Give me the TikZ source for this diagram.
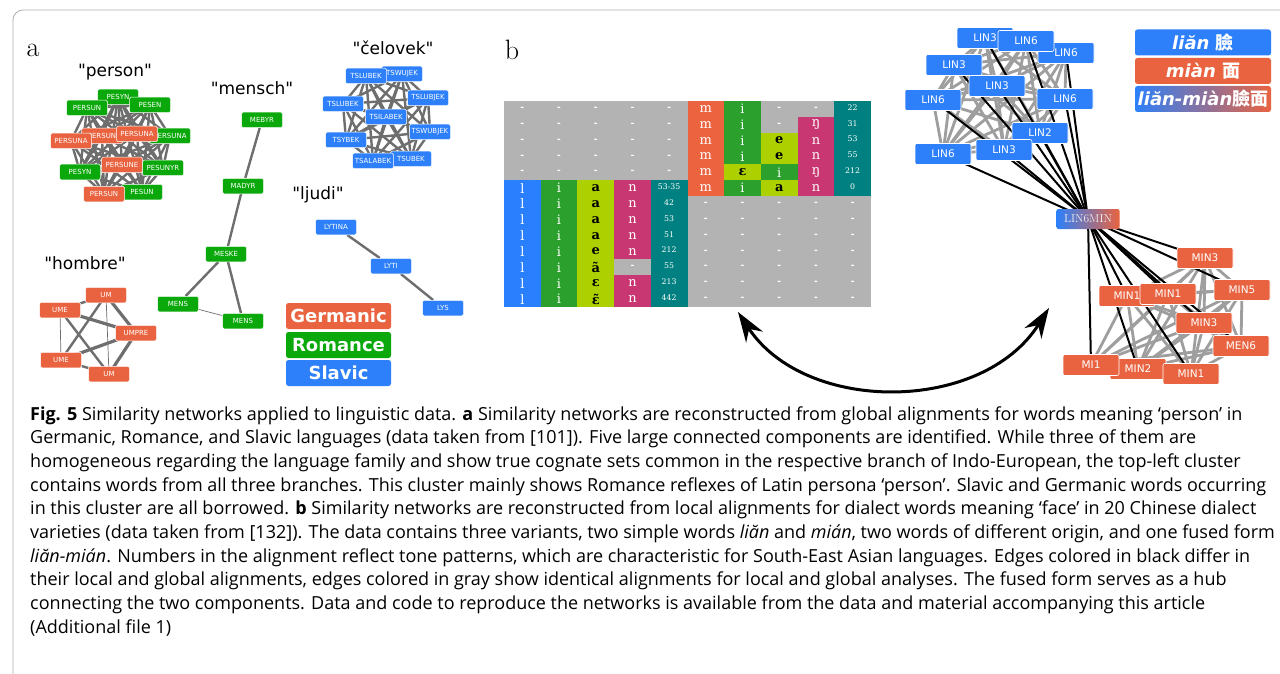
\documentclass[tikz,border=0pt]{standalone}
\usepackage{fontspec}
\usetikzlibrary{arrows.meta}
\newfontfamily\dvs{DejaVu Sans}
\newfontfamily\dvserif{DejaVu Serif}
\newfontfamily\capfont{Open Sans}
\newfontfamily\cjkfont{Noto Sans CJK TC}
\pgfdeclarelayer{bg}
\pgfsetlayers{bg,main}
\definecolor{cGer}{RGB}{233,99,64}
\definecolor{cRom}{RGB}{10,168,10}
\definecolor{cSla}{RGB}{45,128,250}
\definecolor{cEdge}{RGB}{110,110,110}
\definecolor{cEdgeL}{RGB}{158,158,158}
\definecolor{tGray}{RGB}{179,179,179}
\definecolor{tBlue}{RGB}{42,127,255}
\definecolor{tGreen}{RGB}{44,160,44}
\definecolor{tLime}{RGB}{173,208,0}
\definecolor{tMag}{RGB}{200,55,113}
\definecolor{tTeal}{RGB}{0,128,128}
\definecolor{tOra}{RGB}{236,99,64}
\definecolor{frameC}{RGB}{175,175,175}
\tikzset{
  sn/.style={rounded corners=1.5pt, draw=white, line width=0.5pt, text=white,
    font=\dvs\fontsize{7}{8}\selectfont, minimum width=41pt, minimum height=15.5pt, inner sep=0pt},
  gN/.style={sn, fill=cGer}, rN/.style={sn, fill=cRom}, sN/.style={sn, fill=cSla},
  bn/.style={rounded corners=2pt, draw=white, line width=0.6pt, text=white,
    font=\dvs\fontsize{10.5}{12}\selectfont, minimum width=56pt, minimum height=21pt, inner sep=0pt},
  bS/.style={bn, fill=cSla}, bG/.style={bn, fill=cGer},
  ttl/.style={font=\dvs\fontsize{17}{20}\selectfont, inner sep=0pt},
  ed/.style={draw=cEdge, line width=2.4pt},
  edt/.style={draw=cEdge, line width=0.7pt},
  edk/.style={draw=cEdge, line width=3.2pt},
  edl/.style={draw=cEdgeL, line width=2.8pt},
  edb/.style={draw=black, line width=2pt},
  lg/.style={rounded corners=2.5pt, text=white, minimum width=105pt, minimum height=26pt,
    inner sep=0pt, font=\dvs\bfseries\fontsize{18}{20}\selectfont},
  leg/.style={rounded corners=2.5pt, text=white, minimum width=136pt, minimum height=26pt,
    inner sep=0pt, font=\dvs\bfseries\itshape\fontsize{18}{20}\selectfont},
  tl/.style={text=white, font=\dvserif\fontsize{13}{14}\selectfont, inner sep=0pt},
  tk/.style={text=black, font=\dvserif\bfseries\fontsize{13}{14}\selectfont, inner sep=0pt},
  tn/.style={text=white, font=\dvserif\fontsize{7.8}{8}\selectfont, inner sep=0pt, yshift=1.5pt},
  td/.style={text=white, font=\dvs\bfseries\fontsize{9}{10}\selectfont, inner sep=0pt},
  capt/.style={anchor=base west, inner sep=0pt, font=\capfont\fontsize{18}{21}\selectfont},
}
\newcommand{\tcell}[5]{%
  \fill[#3] ({504+#1*36.7},{101+#2*15.846}) rectangle ({504+(#1+1)*36.7},{101+(#2+1)*15.846});
  \node[#5] at ({504+(#1+0.5)*36.7},{101+(#2+0.5)*15.846}) {#4};}
\begin{document}
\begin{tikzpicture}[x=1pt,y=-1pt]
\useasboundingbox (0,0) rectangle (1280,674);
\begin{pgfonlayer}{bg}
\fill[white] (0,0) rectangle (1280,674);
\end{pgfonlayer}
\draw[frameC, line width=0.8pt, rounded corners=10pt] (13,675) -- (13,10) -- (1282,10);

% panel labels
\node[font=\fontsize{28}{30}\selectfont, inner sep=0pt] (la) at (33,50) {a};
\node[font=\fontsize{28}{30}\selectfont, inner sep=0pt] (lb) at (512,50) {b};

% titles
\node[ttl] (tp) at (115,72) {"person"};
\node[ttl] (tm) at (252,88) {"mensch"};
\node[ttl] (tc) at (393,48) {"čelovek"};
\node[ttl] (th) at (85,263) {"hombre"};
\node[ttl] (tj) at (318,195) {"ljudi"};

% person cluster
\node[rN] (p1) at (118,97) {PESYN};
\node[rN] (p2) at (87,108) {PERSUN};
\node[rN] (p3) at (150,105) {PESEN};
\node[rN] (p4) at (170,136) {PERSUNA};
\node[gN] (p5) at (102,136) {PERSUN};
\node[gN] (p6) at (137,134) {PERSUNA};
\node[gN] (p7) at (71,141) {PERSUNA};
\node[gN] (p8) at (122,165) {PERSUNE};
\node[rN] (p9) at (163,168) {PESUNYR};
\node[rN] (p10) at (80,172) {PESYN};
\node[rN] (p11) at (142,192) {PESUN};
\node[gN] (p12) at (104,194) {PERSUN};

% mensch
\node[rN] (m1) at (262,120) {MEBYR};
\node[rN] (m2) at (243,186) {MADYR};
\node[rN] (m3) at (226,254) {MESKE};
\node[rN] (m4) at (178,304) {MENS};
\node[rN] (m5) at (243,321) {MENS};

% celovek
\node[sN] (c1) at (402,74) {TSWUJEK};
\node[sN] (c2) at (366,76) {TSLUBEK};
\node[sN] (c3) at (428,98) {TSLUBJEK};
\node[sN] (c4) at (343,104) {TSLUBEK};
\node[sN] (c5) at (386,117) {TSILABEK};
\node[sN] (c6) at (430,132) {TSWUBJEK};
\node[sN] (c7) at (346,140) {TSYBEK};
\node[sN] (c8) at (411,159) {TSUBEK};
\node[sN] (c9) at (373,161) {TSALABEK};

% hombre
\node[gN] (h1) at (106,295) {UM};
\node[gN] (h2) at (60,310) {UME};
\node[gN] (h3) at (136,333) {UMPRE};
\node[gN] (h4) at (61,360) {UME};
\node[gN] (h5) at (109,374) {UM};

% ljudi
\node[sN] (j1) at (336,227) {LYTINA};
\node[sN] (j2) at (391,266) {LYTI};
\node[sN] (j3) at (443,308) {LYS};

% legend a
\node[lg, fill=cGer] (lgG) at (338.5,316) {Germanic};
\node[lg, fill=cRom] (lgR) at (338.5,345) {Romance};
\node[lg, fill=cSla] (lgS) at (338.5,373) {Slavic};

\begin{pgfonlayer}{bg}
\foreach \i in {1,...,12}{\foreach \j in {1,...,12}{\ifnum\i<\j \draw[ed] (p\i.center) -- (p\j.center);\fi}}
\foreach \i in {1,...,9}{\foreach \j in {1,...,9}{\ifnum\i<\j \draw[ed] (c\i.center) -- (c\j.center);\fi}}
\draw[ed] (m1) -- (m2); \draw[ed] (m2) -- (m3); \draw[ed] (m3) -- (m4); \draw[ed] (m3) -- (m5);
\draw[edt] (m4) -- (m5);
\draw[ed] (h2.center) -- (h1.center); \draw[edk] (h2.center) -- (h3.center);
\draw[edt] (h2.center) -- (h4.center); \draw[ed] (h2.center) -- (h5.center);
\draw[ed] (h1.center) -- (h4.center); \draw[edk] (h1.center) -- (h3.center);
\draw[edt] (h1.center) -- (h5.center); \draw[edk] (h3.center) -- (h4.center);
\draw[edk] (h3.center) -- (h5.center); \draw[ed] (h4.center) -- (h5.center);
\draw[ed] (j1) -- (j2); \draw[ed] (j2) -- (j3);
\end{pgfonlayer}

% alignment table
\fill[tGray] (504,101) rectangle (871,307);
\foreach \c in {0,...,4}{\foreach \r in {0,...,4}{\node[td] at ({504+(\c+0.5)*36.7},{101+(\r+0.5)*15.846}) {-};}}
\foreach \r/\ch/\n/\nc/\nt/\ns in {5/a/53-35/tMag/n/tl,6/a/42/tMag/n/tl,7/a/53/tMag/n/tl,8/a/51/tMag/n/tl,9/e/212/tMag/n/tl,10/ã/55/tGray/-/td,11/ɛ/213/tMag/n/tl,12/ɛ̃/442/tMag/n/tl}{
  \tcell{0}{\r}{tBlue}{l}{tl}
  \tcell{1}{\r}{tGreen}{i}{tl}
  \tcell{2}{\r}{tLime}{\ch}{tk}
  \tcell{3}{\r}{\nc}{\nt}{\ns}
  \tcell{4}{\r}{tTeal}{\n}{tn}
}
\foreach \r/\n in {0/22,1/31,2/53,3/55,4/212,5/0}{
  \tcell{5}{\r}{tOra}{m}{tl}
  \tcell{9}{\r}{tTeal}{\n}{tn}
}
\foreach \r in {0,1,2,3,5}{\tcell{6}{\r}{tGreen}{i}{tl}}
\tcell{6}{4}{tLime}{ɛ}{tk}
\tcell{7}{0}{tGray}{-}{td}
\tcell{7}{1}{tGray}{-}{td}
\tcell{7}{2}{tLime}{e}{tk}
\tcell{7}{3}{tLime}{e}{tk}
\tcell{7}{4}{tGreen}{i}{tl}
\tcell{7}{5}{tLime}{a}{tk}
\tcell{8}{0}{tGray}{-}{td}
\tcell{8}{1}{tMag}{ŋ}{tl}
\tcell{8}{2}{tMag}{n}{tl}
\tcell{8}{3}{tMag}{n}{tl}
\tcell{8}{4}{tMag}{ŋ}{tl}
\tcell{8}{5}{tMag}{n}{tl}
\foreach \c in {5,...,9}{\foreach \r in {6,...,12}{\node[td] at ({504+(\c+0.5)*36.7},{101+(\r+0.5)*15.846}) {-};}}

% double arrow
\coordinate (ar1) at (738,312);
\coordinate (ar2) at (1049,308);
\draw[line width=3pt, {Stealth[length=30pt,width=20pt]}-{Stealth[length=30pt,width=20pt]}]
  (ar1) .. controls (805,414) and (982,414) .. (ar2);

% right network
\node[bS] (L1) at (985,38) {LIN3};
\node[bS] (L3) at (1066,53) {LIN6};
\node[bS] (L2) at (1026,41) {LIN6};
\node[bS] (L4) at (954,65) {LIN3};
\node[bS] (L5) at (997,86) {LIN3};
\node[bS] (L6) at (933,100) {LIN6};
\node[bS] (L7) at (1065,99) {LIN6};
\node[bS] (L8) at (1040,133) {LIN2};
\node[bS] (L9) at (943,154) {LIN6};
\node[bS] (L10) at (1004,150) {LIN3};
\node[rounded corners=2pt, left color=cSla, middle color=cGer!45!white!90!gray, right color=cGer,
  minimum width=63pt, minimum height=20pt, inner sep=0pt, text=white!88!gray,
  font=\fontsize{11.5}{12}\selectfont] (H) at (1088,219) {LIN6MIN};
\node[bG] (M1) at (1205,258) {MIN3};
\node[bG] (M2) at (1127,296) {MIN1};
\node[bG] (M3) at (1168,294) {MIN1};
\node[bG] (M4) at (1242,290) {MIN5};
\node[bG] (M5) at (1204,323) {MIN3};
\node[bG] (M6) at (1241,346) {MEN6};
\node[bG] (M7) at (1138,369) {MIN2};
\node[bG] (M8) at (1091,365) {MI1};
\node[bG] (M9) at (1191,374) {MIN1};

\begin{pgfonlayer}{bg}
\foreach \i in {1,...,10}{\foreach \j in {1,...,10}{\ifnum\i<\j \draw[edl] (L\i.center) -- (L\j.center);\fi}}
\foreach \i in {1,...,9}{\foreach \j in {1,...,9}{\ifnum\i<\j \draw[edl] (M\i.center) -- (M\j.center);\fi}}
\foreach \i in {1,...,10}{\draw[edb] (H.center) -- (L\i.center);}
\foreach \i in {1,...,9}{\draw[edb] (H.center) -- (M\i.center);}
\end{pgfonlayer}

% legend b
\node[leg, fill=cSla] (k1) at (1203,42.5) {liăn {\cjkfont\bfseries\upshape 臉}};
\node[leg, fill=cGer] (k2) at (1203,71) {miàn {\cjkfont\bfseries\upshape 面}};
\node[leg, left color=cSla, middle color=cGer!50!white, right color=cGer] (k3) at (1203,99) {liăn-miàn{\cjkfont\bfseries\upshape 臉面}};

% caption
\node[capt] (cap1) at (30,420) {\textbf{Fig. 5} Similarity networks applied to linguistic data. \textbf{a} Similarity networks are reconstructed from global alignments for words meaning ‘person’ in};
\node[capt] (cap2) at (30,443.7) {Germanic, Romance, and Slavic languages (data taken from [101]). Five large connected components are identified. While three of them are};
\node[capt] (cap3) at (30,467.4) {homogeneous regarding the language family and show true cognate sets common in the respective branch of Indo-European, the top-left cluster};
\node[capt] (cap4) at (30,491.1) {contains words from all three branches. This cluster mainly shows Romance reflexes of Latin persona ‘person’. Slavic and Germanic words occurring};
\node[capt] (cap5) at (30,514.8) {in this cluster are all borrowed. \textbf{b} Similarity networks are reconstructed from local alignments for dialect words meaning ‘face’ in 20 Chinese dialect};
\node[capt] (cap6) at (30,538.5) {varieties (data taken from [132]). The data contains three variants, two simple words \textit{liăn} and \textit{mián}, two words of different origin, and one fused form};
\node[capt] (cap7) at (30,562.2) {\textit{liăn-mián}. Numbers in the alignment reflect tone patterns, which are characteristic for South-East Asian languages. Edges colored in black differ in};
\node[capt] (cap8) at (30,585.9) {their local and global alignments, edges colored in gray show identical alignments for local and global analyses. The fused form serves as a hub};
\node[capt] (cap9) at (30,609.6) {connecting the two components. Data and code to reproduce the networks is available from the data and material accompanying this article};
\node[capt] (cap10) at (30,633.3) {(Additional file 1)};
\end{tikzpicture}
\end{document}
